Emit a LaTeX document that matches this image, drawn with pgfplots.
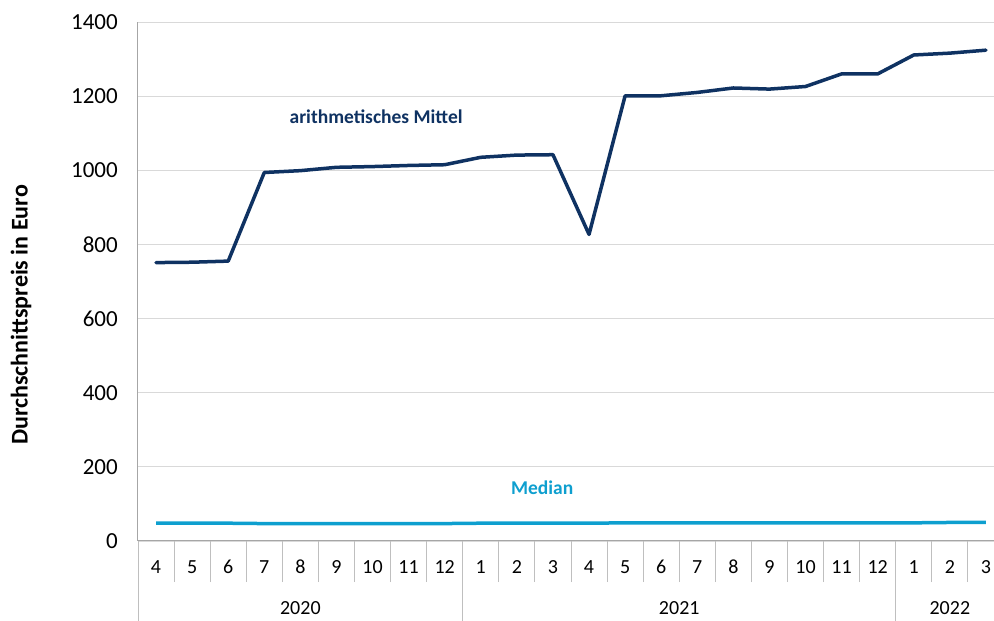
\documentclass[border=0pt]{standalone}
\usepackage{fontspec}
\setmainfont{Carlito}
\usepackage{pgfplots}
\pgfplotsset{compat=1.18}
\definecolor{navy}{HTML}{0F3262}
\definecolor{medblue}{HTML}{0E9FCF}
\definecolor{gridgray}{HTML}{D9D9D9}
\definecolor{axgray}{HTML}{A6A6A6}
\definecolor{sepgray}{HTML}{BFBFBF}
\begin{document}
\fontsize{19.5}{23}\selectfont
\begin{tikzpicture}
\begin{axis}[
  scale only axis, width=866pt, height=519pt,
  xmin=-0.5, xmax=23.5, ymin=0, ymax=1400,
  clip=false,
  axis x line*=bottom, axis y line*=left,
  axis line style={axgray, line width=1pt},
  ytick={0,200,...,1400},
  ymajorgrids, grid style={gridgray, line width=0.9pt},
  xtick={0,...,23},
  xticklabels={4,5,6,7,8,9,10,11,12,1,2,3,4,5,6,7,8,9,10,11,12,1,2,3},
  minor xtick={0.5,1.5,...,22.5},
  tick align=outside, major tick length=0pt, minor tick length=41pt,
  tick style={sepgray, line width=0.9pt},
  extra x ticks={-0.5,8.5,20.5}, extra x tick labels={},
  extra x tick style={major tick length=80pt, tick style={sepgray, line width=0.9pt}},
  xticklabel style={anchor=center, yshift=-26pt, font=\fontsize{20}{24}\selectfont},
  yticklabel style={anchor=east, inner sep=0pt, xshift=-20pt, font=\fontsize{23}{27}\selectfont},
  /pgf/number format/assume math mode=true,
  /pgf/number format/1000 sep={},
  ylabel={Durchschnittspreis in Euro},
  ylabel style={font=\fontsize{24}{28}\selectfont\bfseries, at={(axis description cs:-0.1351,0.4355)}, anchor=center},
]
\addplot[navy, line width=3.5pt, line join=round, line cap=round] coordinates {
(0,751) (1,752) (2,755) (3,994) (4,999) (5,1008) (6,1010) (7,1013) (8,1015) (9,1035) (10,1041) (11,1042)
(12,827) (13,1201) (14,1201) (15,1210) (16,1222) (17,1219) (18,1226) (19,1260) (20,1260) (21,1311) (22,1316) (23,1324)};
\addplot[medblue, line width=3.5pt, line join=round] coordinates {
(0,48) (1,48) (2,48) (3,47) (4,47) (5,47) (6,47) (7,47) (8,47) (9,48) (10,48) (11,48)
(12,48) (13,49) (14,49) (15,49) (16,49) (17,49) (18,49) (19,49) (20,49) (21,49) (22,50) (23,50)};
\node[navy, font=\fontsize{19.5}{23}\selectfont\bfseries] at (axis cs:6.10,1144) {arithmetisches Mittel};
\node[medblue, font=\fontsize{19.5}{23}\selectfont\bfseries] at (axis cs:10.70,143) {Median};
\node[font=\fontsize{20}{24}\selectfont] at (axis cs:4,0) [yshift=-67pt] {2020};
\node[font=\fontsize{20}{24}\selectfont] at (axis cs:14.5,0) [yshift=-67pt] {2021};
\node[font=\fontsize{20}{24}\selectfont] at (axis cs:22,0) [yshift=-67pt] {2022};
\end{axis}
\pgfresetboundingbox
\path[use as bounding box] (-138pt,-80pt) rectangle (856pt,541pt);
\end{tikzpicture}
\end{document}
